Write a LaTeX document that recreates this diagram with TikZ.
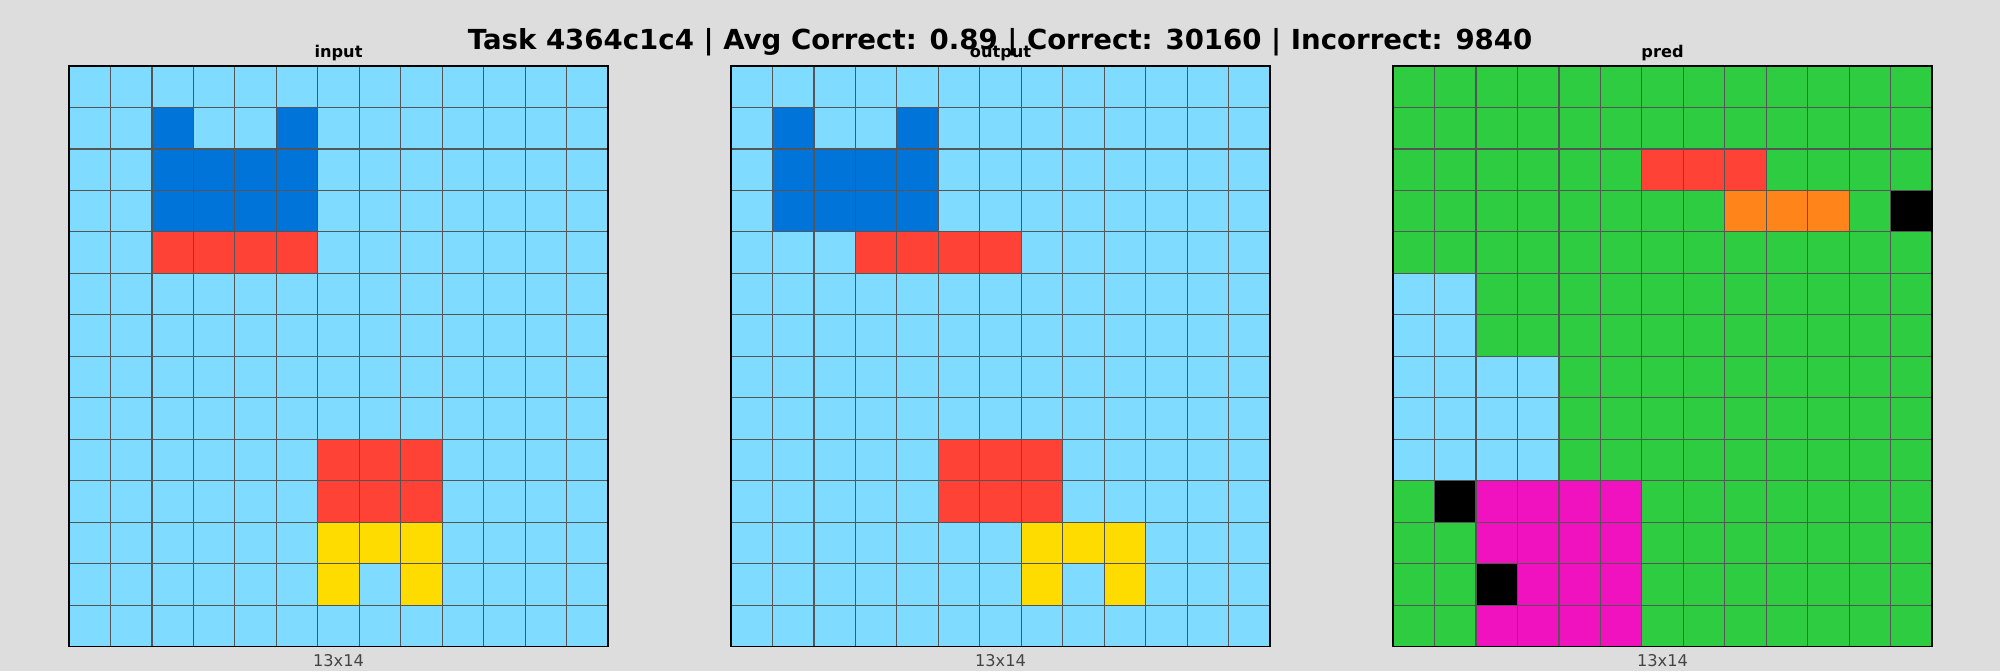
\documentclass[tikz,border=0pt]{standalone}
\usepackage{fontspec}
\setmainfont{DejaVu Sans}
\definecolor{bg}{HTML}{DDDDDD}
\definecolor{cL}{HTML}{7FDBFF}
\definecolor{cB}{HTML}{0074D9}
\definecolor{cR}{HTML}{FF4136}
\definecolor{cY}{HTML}{FFDC00}
\definecolor{cG}{HTML}{2ECC40}
\definecolor{cO}{HTML}{FF851B}
\definecolor{cM}{HTML}{F012BE}
\definecolor{cK}{HTML}{000000}
\definecolor{gridline}{HTML}{555555}
\definecolor{dimtext}{HTML}{444444}
\def\cw{41.47}
\newcommand{\arcgrid}[2]{%
  \foreach \row [count=\r from 0] in {#2} {
    \foreach \c [count=\k from 0] in \row {
      \fill[c\c] ({#1+\k*\cw},{66+\r*\cw}) rectangle ++(\cw,\cw);
    }
  }
  \foreach \i in {1,...,12} \draw[gridcell] ({#1+\i*\cw},66) -- ++(0,{14*\cw});
  \foreach \j in {1,...,13} \draw[gridcell] (#1,{66+\j*\cw}) -- ++({13*\cw},0);
  \draw[gridborder] (#1,66) rectangle ++({13*\cw},{14*\cw});
}
\begin{document}
\begin{tikzpicture}[x=0.5pt,y=-0.5pt,
  gridcell/.style={draw=gridline,line width=0.6pt},
  gridborder/.style={draw=black,line width=0.9pt},
  titletext/.style={font=\bfseries\fontsize{13.8}{16}\selectfont,anchor=base},
  subtext/.style={font=\bfseries\fontsize{8.1}{10}\selectfont,anchor=base},
  sizetext/.style={font=\fontsize{8.1}{10}\selectfont,text=dimtext,anchor=base}]
\fill[bg] (0,0) rectangle (2000,671);
\useasboundingbox (0,0) rectangle (2000,671);
% input
\arcgrid{69}{
{L,L,L,L,L,L,L,L,L,L,L,L,L},
{L,L,B,L,L,B,L,L,L,L,L,L,L},
{L,L,B,B,B,B,L,L,L,L,L,L,L},
{L,L,B,B,B,B,L,L,L,L,L,L,L},
{L,L,R,R,R,R,L,L,L,L,L,L,L},
{L,L,L,L,L,L,L,L,L,L,L,L,L},
{L,L,L,L,L,L,L,L,L,L,L,L,L},
{L,L,L,L,L,L,L,L,L,L,L,L,L},
{L,L,L,L,L,L,L,L,L,L,L,L,L},
{L,L,L,L,L,L,R,R,R,L,L,L,L},
{L,L,L,L,L,L,R,R,R,L,L,L,L},
{L,L,L,L,L,L,Y,Y,Y,L,L,L,L},
{L,L,L,L,L,L,Y,L,Y,L,L,L,L},
{L,L,L,L,L,L,L,L,L,L,L,L,L}}
% output
\arcgrid{731}{
{L,L,L,L,L,L,L,L,L,L,L,L,L},
{L,B,L,L,B,L,L,L,L,L,L,L,L},
{L,B,B,B,B,L,L,L,L,L,L,L,L},
{L,B,B,B,B,L,L,L,L,L,L,L,L},
{L,L,L,R,R,R,R,L,L,L,L,L,L},
{L,L,L,L,L,L,L,L,L,L,L,L,L},
{L,L,L,L,L,L,L,L,L,L,L,L,L},
{L,L,L,L,L,L,L,L,L,L,L,L,L},
{L,L,L,L,L,L,L,L,L,L,L,L,L},
{L,L,L,L,L,R,R,R,L,L,L,L,L},
{L,L,L,L,L,R,R,R,L,L,L,L,L},
{L,L,L,L,L,L,L,Y,Y,Y,L,L,L},
{L,L,L,L,L,L,L,Y,L,Y,L,L,L},
{L,L,L,L,L,L,L,L,L,L,L,L,L}}
% pred
\arcgrid{1393}{
{G,G,G,G,G,G,G,G,G,G,G,G,G},
{G,G,G,G,G,G,G,G,G,G,G,G,G},
{G,G,G,G,G,G,R,R,R,G,G,G,G},
{G,G,G,G,G,G,G,G,O,O,O,G,K},
{G,G,G,G,G,G,G,G,G,G,G,G,G},
{L,L,G,G,G,G,G,G,G,G,G,G,G},
{L,L,G,G,G,G,G,G,G,G,G,G,G},
{L,L,L,L,G,G,G,G,G,G,G,G,G},
{L,L,L,L,G,G,G,G,G,G,G,G,G},
{L,L,L,L,G,G,G,G,G,G,G,G,G},
{G,K,M,M,M,M,G,G,G,G,G,G,G},
{G,G,M,M,M,M,G,G,G,G,G,G,G},
{G,G,K,M,M,M,G,G,G,G,G,G,G},
{G,G,M,M,M,M,G,G,G,G,G,G,G}}
\node[subtext] (tin) at (338.5,57) {input};
\node[subtext] (tout) at (1000.5,57) {output};
\node[subtext] (tpred) at (1662.5,57) {pred};
\node[titletext] (title) at (1000,49) {Task 4364c1c4 | Avg Correct: 0.89 | Correct: 30160 | Incorrect: 9840};
\node[sizetext] (sin) at (338.5,666) {13x14};
\node[sizetext] (sout) at (1000.5,666) {13x14};
\node[sizetext] (spred) at (1662.5,666) {13x14};
\end{tikzpicture}
\end{document}
